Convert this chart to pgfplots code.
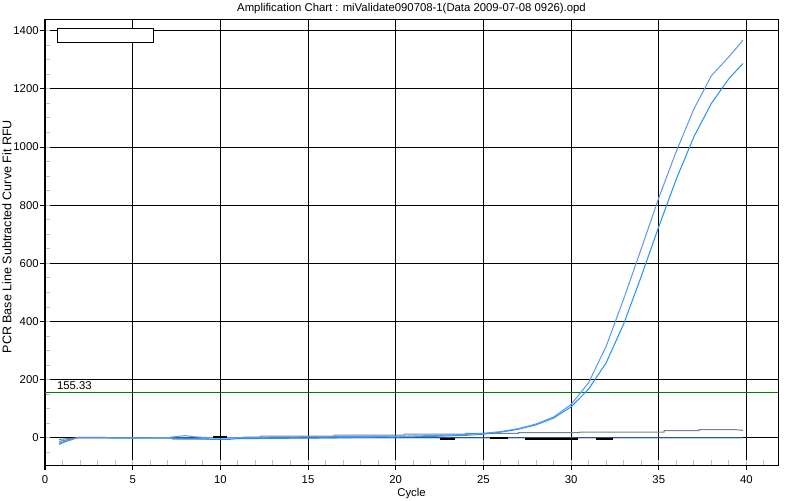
\documentclass[border=0pt]{standalone}
\usepackage{pgfplots}
\pgfplotsset{compat=1.18}
\usepackage{fontspec}
\setmainfont{Liberation Sans}
\definecolor{cA}{RGB}{90,150,240}
\definecolor{cB}{RGB}{30,144,255}
\definecolor{cC}{RGB}{115,130,148}
\definecolor{cD}{RGB}{70,130,200}
\definecolor{thr}{RGB}{0,128,0}
\begin{document}
\fontsize{8.5}{10}\selectfont
\begin{tikzpicture}
\useasboundingbox (-33.75pt,-26.25pt) rectangle (566.25pt,348.75pt);
\begin{axis}[
  name=ax,
  at={(0,0)}, anchor=south west,
  scale only axis, width=549.75pt, height=334.5pt,
  xmin=0, xmax=41.8, ymin=-93, ymax=1440,
  xtick={0,5,...,40}, ytick={0,200,...,1400},
  minor xtick={0,...,41}, minor ytick={-50,0,...,1400},
  xtick pos=bottom, ytick pos=left,
  tick align=outside, major tick length=3.75pt, minor tick length=3.75pt,
  every minor x tick/.append style={yshift=3.75pt},
  every minor y tick/.append style={xshift=3.75pt},
  minor tick style={color=lightgray, line width=0.75pt},
  major tick style={black, line width=0.75pt},
  grid=major,
  major grid style={black, line width=0.75pt},
  axis line style={black, line width=0.75pt},
  /pgf/number format/assume math mode=true,
  /pgf/number format/1000 sep={},
  tick label style={font=\fontsize{8.5}{10}\selectfont},
  xticklabel style={yshift=-1.5pt},
  yticklabel style={xshift=2pt},
  xlabel={Cycle},
  xlabel style={at={(axis description cs:0.5,-0.063)}, anchor=center, inner sep=0pt, font=\fontsize{8.5}{10}\selectfont},
  ylabel={PCR Base Line Subtracted Curve Fit RFU},
  ylabel style={at={(axis description cs:-0.052,0.512)}, anchor=center, inner sep=0pt, font=\fontsize{9.4}{11}\selectfont},
  clip=true,
]
% threshold
\addplot[thr, line width=0.75pt] coordinates {(0,155.33) (41.8,155.33)};
% flat blue series
\addplot[cD, line width=0.75pt] coordinates {(0.8,-5) (1.8,0) (39.8,0)};
% gray slowly rising series
\addplot[cC, line width=0.75pt] coordinates {
(0.8,-12) (1.8,0) (7.2,0) (7.3,-4) (9.3,-4) (9.3,1) (11.3,1) (11.3,3) (12.3,3) (12.3,6)
(16.5,6) (16.5,10) (20.5,10) (20.5,13) (24,13) (24,16) (27,16) (27,18) (30.5,18)
(30.5,20) (35.3,20) (35.3,25) (37.3,25) (37.3,29) (39.3,29) (39.8,26)};
% lower amplification curve
\addplot[cB, line width=0.75pt] coordinates {
(0.8,-22) (1.2,-12) (1.6,-4) (1.9,2) (3.3,2) (4,0) (7,0) (8,-2) (9,-3) (9.5,-5)
(10.5,-5) (11,-2) (12,-2) (14,-1) (16,0) (18,2) (20,3) (22,5) (24,9) (25,13)
(26,20) (27,30) (28,45) (29,68) (30,107) (31,168) (32,258) (33,392) (34,555)
(35,726) (36,890) (37,1035) (38,1150) (39,1235) (39.8,1287)};
% upper amplification curve
\addplot[cA, line width=0.75pt] coordinates {
(0.8,-18) (1.0,-14) (1.5,-6) (1.9,2) (3.3,2) (4,0) (7,1) (7.5,5) (8,8) (8.5,4)
(9,2) (10,0) (11,1) (12,2) (14,3) (16,4) (18,5) (20,6) (22,8) (24,12) (25,16)
(26,22) (27,32) (28,48) (29,72) (30,115) (31,190) (32,315) (33,478) (34,650)
(35,825) (36,985) (37,1130) (38,1245) (39,1310) (39.8,1367)};
% black short segments
\addplot[black, line width=1.5pt, unbounded coords=jump] coordinates {
(9.6,2) (10.4,2) (nan,nan) (22.5,-2) (23.4,-2) (nan,nan) (25.4,-1) (26.4,-1) (nan,nan)
(27.4,-2) (30.4,-2) (nan,nan) (31.4,-2) (32.4,-2)};
% legend box
\draw[black, fill=white, line width=0.75pt] (axis cs:0.72,1360) rectangle (axis cs:6.19,1408);
\node[anchor=base west, inner sep=0pt, yshift=2.25pt] at (axis cs:0.67,155.33) {155.33};
\end{axis}
\node[anchor=base, inner sep=0pt, yshift=5.3pt] at (ax.north) {Amplification Chart : miValidate090708-1(Data 2009-07-08 0926).opd};
\end{tikzpicture}
\end{document}
